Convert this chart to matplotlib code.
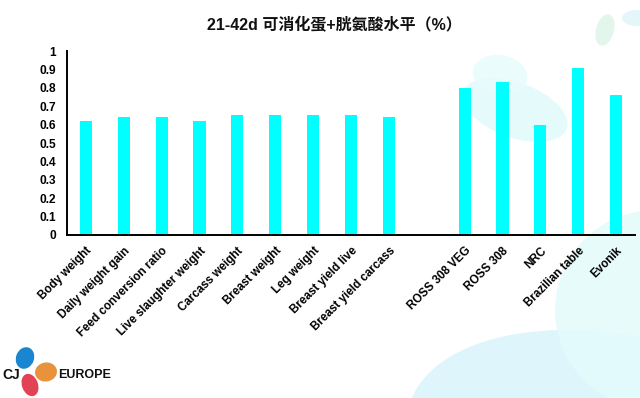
import numpy as np
import matplotlib
matplotlib.use("Agg")
import matplotlib.pyplot as plt
from matplotlib.patches import Ellipse

plt.rcParams['font.family'] = ['Liberation Sans', 'Noto Sans CJK SC', 'DejaVu Sans']

# ---- data ----
trial_labels = ["Body weight", "Daily weight gain", "Feed conversion ratio",
                "Live slaughter weight", "Carcass weight", "Breast weight",
                "Leg weight", "Breast yield live", "Breast yield carcass"]
trial_values = [0.62, 0.64, 0.64, 0.62, 0.65, 0.65, 0.65, 0.65, 0.64]
ref_labels = ["ROSS 308 VEG", "ROSS 308", "NRC", "Brazilian table", "Evonik"]
ref_values = [0.80, 0.83, 0.60, 0.91, 0.76]
yticks = [0, 0.1, 0.2, 0.3, 0.4, 0.5, 0.6, 0.7, 0.8, 0.9, 1]
ytick_labels = ["0", "0.1", "0.2", "0.3", "0.4", "0.5", "0.6", "0.7", "0.8", "0.9", "1"]
title = "21-42d 可消化蛋+胱氨酸水平（%）"

labels = trial_labels + [""] + ref_labels
values = trial_values + [np.nan] + ref_values
x = np.arange(len(labels))

W, H = 640, 398
fig = plt.figure(figsize=(W / 100, H / 100), dpi=100)
fig.patch.set_facecolor("white")

# background decorative blobs
bg = fig.add_axes([0, 0, 1, 1], zorder=0)
bg.set_xlim(0, W); bg.set_ylim(H, 0); bg.axis("off")
blobs = [
    ((640, 470), 480, 260, 15, "#d3f2fb", 0.75),
    ((655, 310), 200, 200, 0, "#e3fbfb", 0.85),
    ((515, 110), 110, 55, 20, "#e3fbfb", 0.9),
    ((500, 75), 55, 40, 10, "#e8fcfc", 0.9),
    ((605, 30), 18, 32, 15, "#e0f5ea", 0.9),
    ((637, 18), 30, 16, 0, "#e3f6fa", 0.9),
]
for (cx, cy), w, h, ang, c, a in blobs:
    bg.add_patch(Ellipse((cx, cy), w, h, angle=ang, color=c, alpha=a, lw=0))

# logo
bg.add_patch(Ellipse((25, 358), 18, 22, angle=20, color="#1a86cf", lw=0))
bg.add_patch(Ellipse((46, 372), 22, 19, angle=-10, color="#e8923b", lw=0))
bg.add_patch(Ellipse((30, 385), 16, 23, angle=-20, color="#e24253", lw=0))
bg.text(2, 375, "CJ", fontsize=10, fontweight="bold", va="center", ha="left", color="#111111")
bg.text(58, 375, "EUROPE", fontsize=9, fontweight="bold", va="center", ha="left", color="#111111")

ax = fig.add_axes([67 / W, 1 - 235 / H, (635 - 67) / W, (235 - 51) / H], zorder=1)
ax.patch.set_alpha(0)
ax.bar(x, values, width=0.32, color="#00ffff", zorder=2)
ax.set_xlim(-0.5, len(labels) - 0.5)
ax.set_ylim(0, 1)
ax.set_yticks(yticks)
ax.set_yticklabels(ytick_labels, fontsize=8.6, fontweight="bold")
ax.set_xticks(x)
ax.set_xticklabels(labels, rotation=45, ha="right", rotation_mode="anchor",
                   fontsize=8.4, fontweight="bold")
ax.tick_params(axis="y", length=0, pad=8)
ax.tick_params(axis="x", length=0, pad=7)
for s in ["top", "right"]:
    ax.spines[s].set_visible(False)
for s in ["left", "bottom"]:
    ax.spines[s].set_linewidth(1.4)
    ax.spines[s].set_color("black")

fig.text(334 / W, 1 - 25 / H, title, fontsize=11.5, fontweight="bold",
         ha="center", va="center", color="#111111")

fig.savefig("out.png", dpi=100)
